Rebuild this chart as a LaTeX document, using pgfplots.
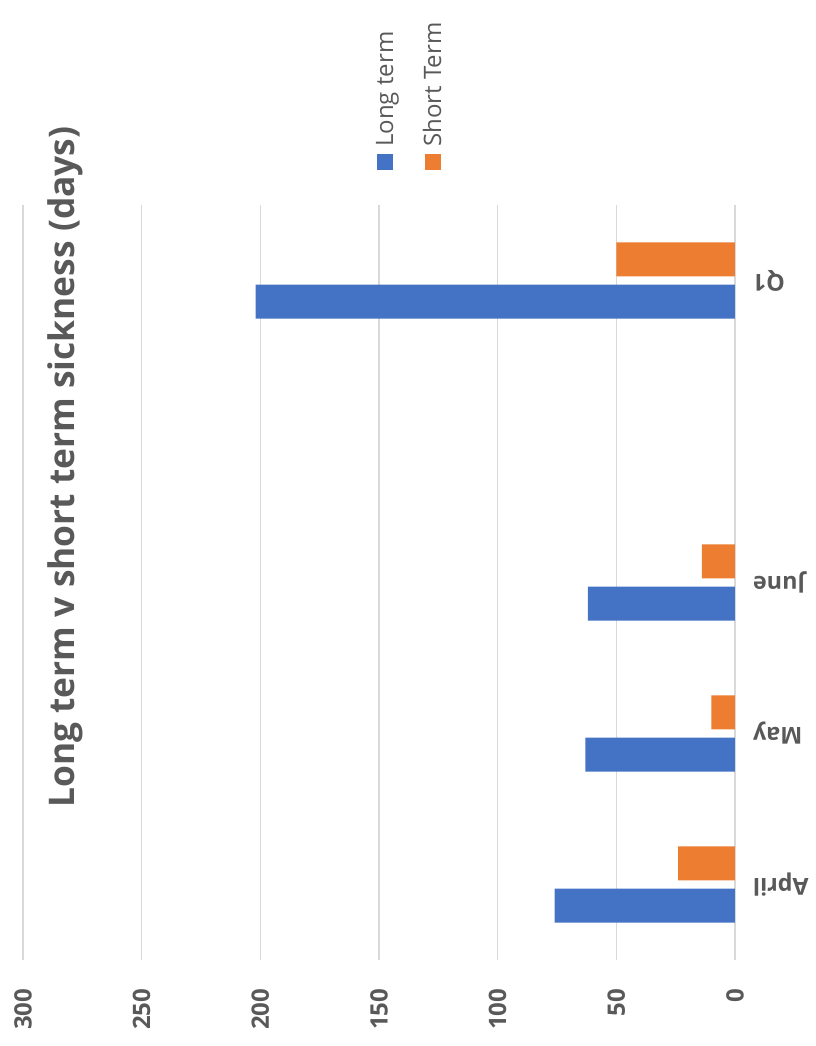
\documentclass[border=0pt]{standalone}
\usepackage{fontspec}
\setmainfont{Open Sans}
\usepackage{pgfplots}
\pgfplotsset{compat=1.18}
\definecolor{lt}{HTML}{4472C4}
\definecolor{st}{HTML}{ED7D31}
\definecolor{txt}{HTML}{595959}
\definecolor{gridc}{HTML}{D9D9D9}
\begin{document}
\begin{tikzpicture}
\path[use as bounding box] (0,0) rectangle (612pt,784.5pt);
\begin{axis}[
  at={(284.25pt,347.625pt)}, anchor=center,
  scale only axis, width=534pt, height=566.25pt,
  xbar, bar width=25.5pt,
  x dir=reverse,
  xmin=0, xmax=300, ymin=-0.5, ymax=4.5,
  xtick={0,50,...,300},
  ytick={0,1,2,4}, yticklabels={April,May,June,Q1},
  yticklabel pos=right,
  axis line style={draw=none},
  major tick length=0pt,
  xmajorgrids, grid style={gridc, line width=1.2pt},
  extra x ticks={0}, extra x tick labels={},
  extra x tick style={grid style={gridc, line width=2.2pt}},
  /pgf/number format/assume math mode=true,
  xticklabel style={rotate=90, anchor=east, font=\bfseries\fontsize{18}{18}\selectfont, text=txt},
  xticklabel shift=18pt,
  yticklabel style={rotate=180, anchor=east, font=\bfseries\fontsize{17.5}{17.5}\selectfont, text=txt},
  yticklabel shift=10pt,
]
\addplot[fill=lt, draw=none, bar shift=-15.9pt] coordinates {(76,0) (63,1) (62,2) (202,4)};
\addplot[fill=st, draw=none, bar shift=15.9pt] coordinates {(24,0) (10,1) (14,2) (50,4)};
\end{axis}
\node[rotate=90, anchor=base, text=txt, font=\bfseries\fontsize{26.5}{26.5}\selectfont, inner sep=0pt] at (56pt,434.25pt) {Long term v short term sickness (days)};
\node[fill=lt, minimum size=12pt, inner sep=0pt] at (288.75pt,663pt) {};
\node[fill=st, minimum size=12pt, inner sep=0pt] at (324.75pt,663pt) {};
\node[rotate=90, anchor=base west, text=txt, font=\fontsize{18}{18}\selectfont, inner sep=0pt] at (294.75pt,674.25pt) {Long term};
\node[rotate=90, anchor=base west, text=txt, font=\fontsize{18}{18}\selectfont, inner sep=0pt] at (330.75pt,674.25pt) {Short Term};
\end{tikzpicture}
\end{document}
